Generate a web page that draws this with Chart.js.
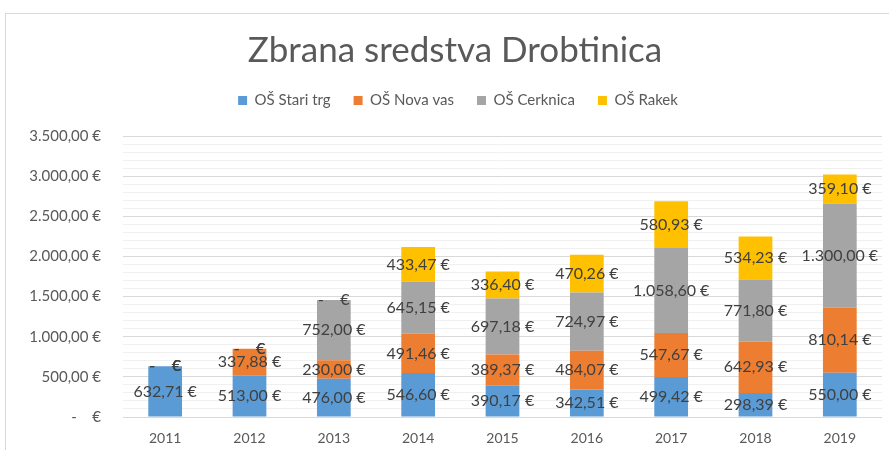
<!DOCTYPE html>
<html>
<head>
<meta charset="utf-8">
<script src="https://cdn.jsdelivr.net/npm/chart.js@4"></script>
<style>
  html, body { margin: 0; background: #fff; overflow: hidden; }
  #frame { position: absolute; left: 5px; top: 13px; width: 900px; height: 500px; border: 1px solid #d9d9d9; }
  #wrap { position: absolute; left: 0; top: 0; width: 910px; height: 450px; }
</style>
</head>
<body>
<div id="frame"></div>
<div id="wrap"><canvas id="chart"></canvas></div>
<script>
// podatki: zbrana sredstva po letih in šolah
var leta = ['2011', '2012', '2013', '2014', '2015', '2016', '2017', '2018', '2019'];
var starTrg = [632.71, 513.00, 476.00, 546.60, 390.17, 342.51, 499.42, 298.39, 550.00];
var novaVas = [0, 337.88, 230.00, 491.46, 389.37, 484.07, 547.67, 642.93, 810.14];
var cerknica = [0, 0, 752.00, 645.15, 697.18, 724.97, 1058.60, 771.80, 1300.00];
var rakek = [0, 0, 0, 433.47, 336.40, 470.26, 580.93, 534.23, 359.10];
var imenaSol = ['OŠ Stari trg', 'OŠ Nova vas', 'OŠ Cerknica', 'OŠ Rakek'];
var barve = ['#5B9BD5', '#ED7D31', '#A5A5A5', '#FFC000'];

var FONT = 'Lato, "Open Sans", sans-serif';
var NB = '\u00a0';

function evro(v) {
  if (v === 0) return '-' + NB.repeat(4) + '€';
  var s = v.toFixed(2).split('.');
  var cel = s[0].replace(/\B(?=(\d{3})+(?!\d))/g, '.');
  return cel + ',' + s[1] + NB + '€';
}

// oznake vrednosti na sredini stolpcev
var oznake = {
  id: 'oznake',
  afterDatasetsDraw: function(chart) {
    var ctx = chart.ctx;
    ctx.save();
    ctx.font = '16px ' + FONT;
    ctx.fillStyle = '#404040';
    ctx.textAlign = 'center';
    ctx.textBaseline = 'middle';
    chart.data.datasets.forEach(function(ds, i) {
      chart.getDatasetMeta(i).data.forEach(function(el, j) {
        var p = el.getCenterPoint();
        ctx.fillText(evro(ds.data[j]), p.x, p.y);
      });
    });
    ctx.restore();
  }
};

// malo več prostora pod legendo, naslov in legenda centrirana na celoten okvir
var legendaRazmik = {
  id: 'legendaRazmik',
  beforeInit: function(chart) {
    var fit = chart.legend.fit;
    chart.legend.fit = function() {
      fit.bind(chart.legend)();
      this.height += 18;
    };
  },
  afterLayout: function(chart) {
    chart.titleBlock.left = 0;
    chart.titleBlock.right = chart.width;
    chart.legend.left = 6;
    chart.legend.right = chart.width;
  }
};

var podatki = [starTrg, novaVas, cerknica, rakek];

new Chart(document.getElementById('chart'), {
  type: 'bar',
  data: {
    labels: leta,
    datasets: podatki.map(function(d, i) {
      return {
        label: imenaSol[i],
        data: d,
        backgroundColor: barve[i],
        categoryPercentage: 1,
        barPercentage: 0.4
      };
    })
  },
  options: {
    responsive: true,
    maintainAspectRatio: false,
    animation: false,
    layout: { padding: { left: 0, right: 28, top: 0, bottom: 0 } },
    plugins: {
      title: {
        display: true,
        text: 'Zbrana sredstva Drobtinica',
        color: '#595959',
        font: { family: FONT, size: 35, weight: 'normal' },
        padding: { top: 30, bottom: -2 }
      },
      legend: {
        position: 'top',
        labels: {
          color: '#595959',
          font: { family: FONT, size: 15 },
          boxWidth: 9,
          boxHeight: 9,
          padding: 23
        }
      },
      tooltip: { enabled: false }
    },
    scales: {
      x: {
        stacked: true,
        afterFit: function(scale) { scale.height = 33; },
        grid: { display: false, drawTicks: false },
        border: { display: false },
        ticks: { color: '#595959', font: { family: FONT, size: 14 }, padding: 13 }
      },
      y: {
        stacked: true,
        min: 0,
        max: 3500,
        afterFit: function(scale) { scale.width = 123; },
        border: { display: false },
        grid: {
          drawTicks: false,
          color: function(c) { return c.tick && c.tick.value % 500 === 0 ? '#d9d9d9' : '#f0f0f0'; },
          lineWidth: 1
        },
        ticks: {
          stepSize: 100,
          autoSkip: false,
          padding: 22,
          color: '#595959',
          font: { family: FONT, size: 15 },
          callback: function(v) {
            if (v % 500 !== 0) return '';
            return evro(v);
          }
        }
      }
    }
  },
  plugins: [oznake, legendaRazmik]
});
</script>
</body>
</html>
